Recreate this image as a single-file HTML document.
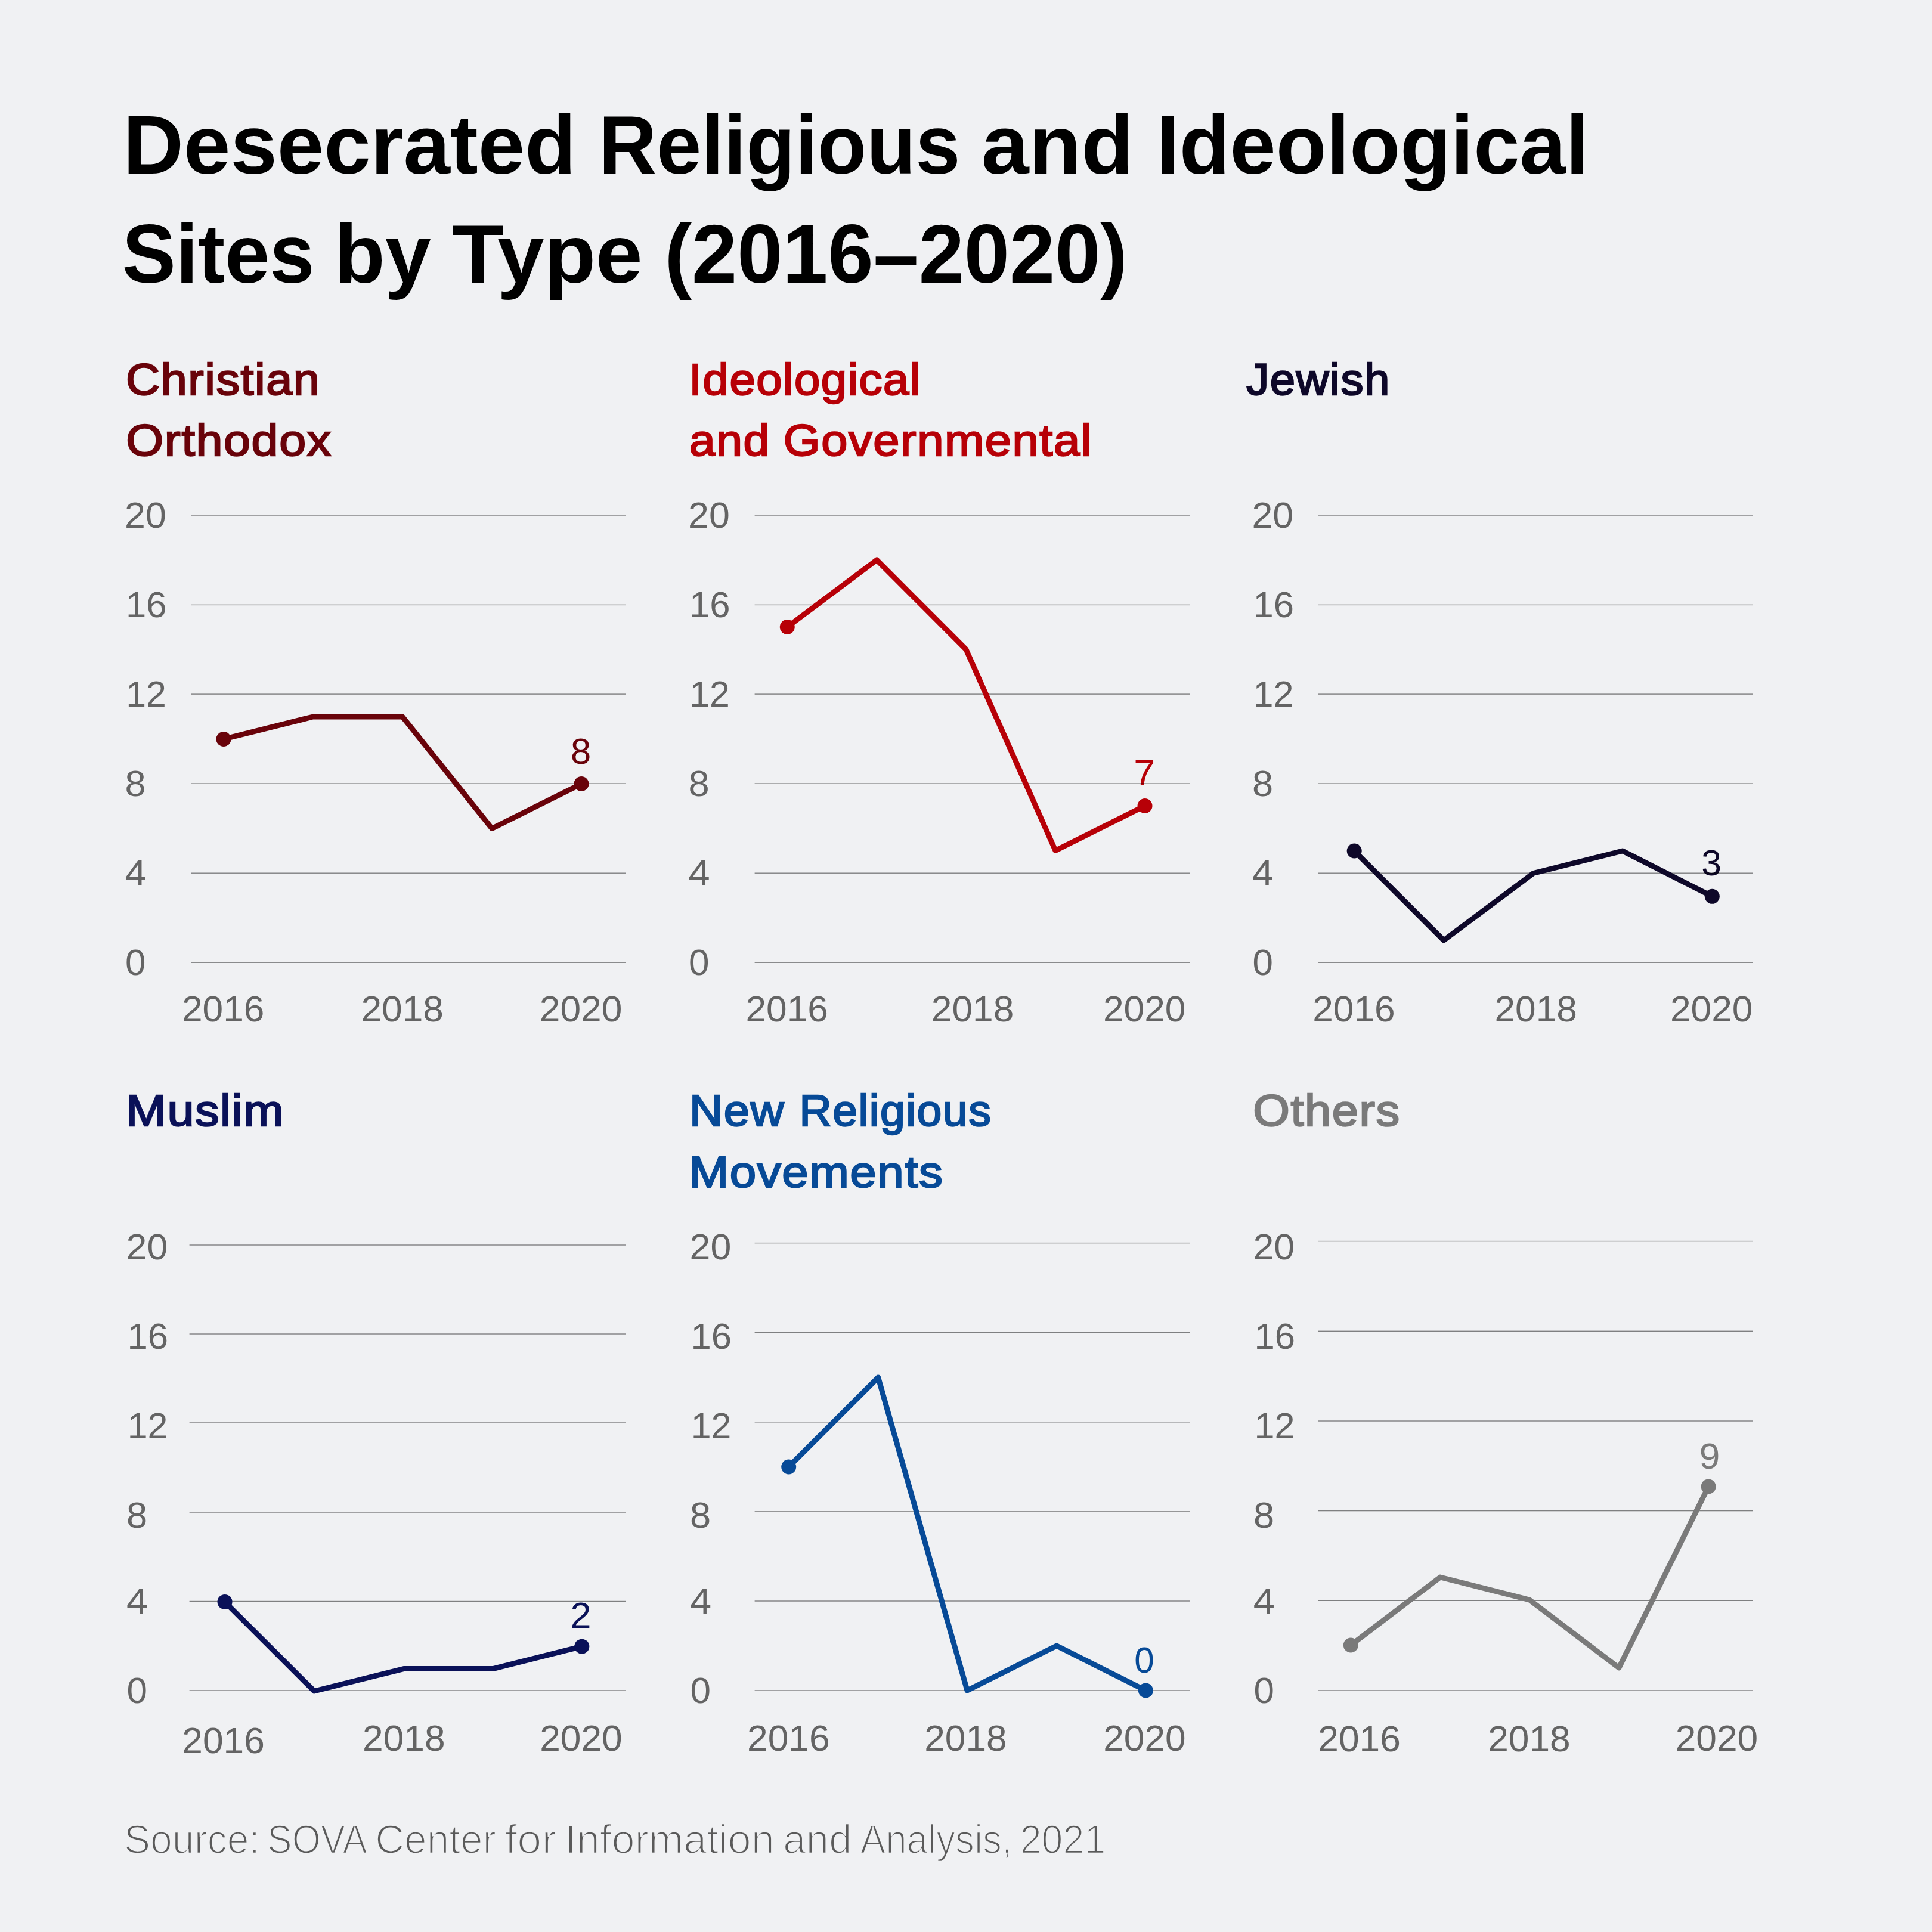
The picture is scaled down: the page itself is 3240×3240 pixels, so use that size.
<!DOCTYPE html>
<html lang="en"><head><meta charset="utf-8"><title>Desecrated Religious and Ideological Sites by Type (2016–2020)</title>
<style>
html,body{margin:0;padding:0;background:#f0f1f3;}
body{width:3240px;height:3240px;overflow:hidden;}
svg{display:block;font-family:"Liberation Sans",sans-serif;}
</style></head><body>
<svg width="3240" height="3240" viewBox="0 0 3240 3240">
<rect width="3240" height="3240" fill="#f0f1f3"/>
<text x="206.22" y="291" font-size="140" fill="#000" font-weight="bold" textLength="760.01" lengthAdjust="spacingAndGlyphs">Desecrated</text>
<text x="1004.03" y="291" font-size="140" fill="#000" font-weight="bold" textLength="606.4" lengthAdjust="spacingAndGlyphs">Religious</text>
<text x="1645.77" y="291" font-size="140" fill="#000" font-weight="bold" textLength="255.24" lengthAdjust="spacingAndGlyphs">and</text>
<text x="1939.26" y="291" font-size="140" fill="#000" font-weight="bold" textLength="725.0" lengthAdjust="spacingAndGlyphs">Ideological</text>
<text x="204.64" y="473.5" font-size="140" fill="#000" font-weight="bold" textLength="322.73" lengthAdjust="spacingAndGlyphs">Sites</text>
<text x="560.95" y="473.5" font-size="140" fill="#000" font-weight="bold" textLength="161.85" lengthAdjust="spacingAndGlyphs">by</text>
<text x="758.17" y="473.5" font-size="140" fill="#000" font-weight="bold" textLength="319.58" lengthAdjust="spacingAndGlyphs">Type</text>
<text x="1114.43" y="473.5" font-size="140" fill="#000" font-weight="bold" textLength="776.44" lengthAdjust="spacingAndGlyphs">(2016–2020)</text>
<text x="211.08" y="662.0" font-size="75" fill="#69030a" letter-spacing="1.5" stroke="#69030a" stroke-width="2.4" textLength="326.3" lengthAdjust="spacingAndGlyphs">Christian</text>
<text x="211.38" y="763.9" font-size="75" fill="#69030a" letter-spacing="1.5" stroke="#69030a" stroke-width="2.4" textLength="345.37" lengthAdjust="spacingAndGlyphs">Orthodox</text>
<text x="209.95" y="1635.2" font-size="62" fill="#646464" textLength="34.48" lengthAdjust="spacingAndGlyphs">0</text>
<text x="209.4" y="1485.2" font-size="62" fill="#646464" textLength="36.11" lengthAdjust="spacingAndGlyphs">4</text>
<text x="209.61" y="1335.2" font-size="62" fill="#646464" textLength="35.17" lengthAdjust="spacingAndGlyphs">8</text>
<text x="211.27" y="1185.2" font-size="62" fill="#646464" textLength="67.72" lengthAdjust="spacingAndGlyphs">12</text>
<text x="211.03" y="1035.2" font-size="62" fill="#646464" textLength="68.56" lengthAdjust="spacingAndGlyphs">16</text>
<text x="209.04" y="885.2" font-size="62" fill="#646464" textLength="69.72" lengthAdjust="spacingAndGlyphs">20</text>
<text x="304.97" y="1712.5" font-size="62" fill="#646464" textLength="138.54" lengthAdjust="spacingAndGlyphs">2016</text>
<text x="605.47" y="1712.5" font-size="62" fill="#646464" textLength="138.54" lengthAdjust="spacingAndGlyphs">2018</text>
<text x="904.78" y="1712.5" font-size="62" fill="#646464" textLength="138.53" lengthAdjust="spacingAndGlyphs">2020</text>
<text x="957.09" y="1281" font-size="62" fill="#69030a" textLength="34.21" lengthAdjust="spacingAndGlyphs">8</text>
<text x="1155.38" y="662.0" font-size="75" fill="#b70007" letter-spacing="1.5" stroke="#b70007" stroke-width="2.4" textLength="389.33" lengthAdjust="spacingAndGlyphs">Ideological</text>
<text x="1156.08" y="763.9" font-size="75" fill="#b70007" letter-spacing="1.5" stroke="#b70007" stroke-width="2.4" textLength="135.81" lengthAdjust="spacingAndGlyphs">and</text>
<text x="1313.81" y="763.9" font-size="75" fill="#b70007" letter-spacing="1.5" stroke="#b70007" stroke-width="2.4" textLength="518.19" lengthAdjust="spacingAndGlyphs">Governmental</text>
<text x="1154.95" y="1635.2" font-size="62" fill="#646464" textLength="34.48" lengthAdjust="spacingAndGlyphs">0</text>
<text x="1154.4" y="1485.2" font-size="62" fill="#646464" textLength="36.11" lengthAdjust="spacingAndGlyphs">4</text>
<text x="1154.61" y="1335.2" font-size="62" fill="#646464" textLength="35.17" lengthAdjust="spacingAndGlyphs">8</text>
<text x="1156.27" y="1185.2" font-size="62" fill="#646464" textLength="67.72" lengthAdjust="spacingAndGlyphs">12</text>
<text x="1156.03" y="1035.2" font-size="62" fill="#646464" textLength="68.56" lengthAdjust="spacingAndGlyphs">16</text>
<text x="1154.04" y="885.2" font-size="62" fill="#646464" textLength="69.72" lengthAdjust="spacingAndGlyphs">20</text>
<text x="1250.47" y="1712.5" font-size="62" fill="#646464" textLength="138.54" lengthAdjust="spacingAndGlyphs">2016</text>
<text x="1561.78" y="1712.5" font-size="62" fill="#646464" textLength="138.54" lengthAdjust="spacingAndGlyphs">2018</text>
<text x="1849.97" y="1712.5" font-size="62" fill="#646464" textLength="138.53" lengthAdjust="spacingAndGlyphs">2020</text>
<text x="1901.18" y="1317.4" font-size="62" fill="#b70007" textLength="36.02" lengthAdjust="spacingAndGlyphs">7</text>
<text x="2090.21" y="662.0" font-size="75" fill="#0e0829" letter-spacing="1.5" stroke="#0e0829" stroke-width="2.4" textLength="241.74" lengthAdjust="spacingAndGlyphs">Jewish</text>
<text x="2100.38" y="1635.2" font-size="62" fill="#646464" textLength="34.44" lengthAdjust="spacingAndGlyphs">0</text>
<text x="2099.82" y="1485.2" font-size="62" fill="#646464" textLength="36.11" lengthAdjust="spacingAndGlyphs">4</text>
<text x="2100.04" y="1335.2" font-size="62" fill="#646464" textLength="35.12" lengthAdjust="spacingAndGlyphs">8</text>
<text x="2101.42" y="1185.2" font-size="62" fill="#646464" textLength="68.0" lengthAdjust="spacingAndGlyphs">12</text>
<text x="2101.45" y="1035.2" font-size="62" fill="#646464" textLength="68.56" lengthAdjust="spacingAndGlyphs">16</text>
<text x="2099.45" y="885.2" font-size="62" fill="#646464" textLength="69.7" lengthAdjust="spacingAndGlyphs">20</text>
<text x="2201.17" y="1712.5" font-size="62" fill="#646464" textLength="138.54" lengthAdjust="spacingAndGlyphs">2016</text>
<text x="2506.47" y="1712.5" font-size="62" fill="#646464" textLength="138.54" lengthAdjust="spacingAndGlyphs">2018</text>
<text x="2800.97" y="1712.5" font-size="62" fill="#646464" textLength="138.53" lengthAdjust="spacingAndGlyphs">2020</text>
<text x="2853.22" y="1467.7" font-size="62" fill="#0e0829" textLength="33.62" lengthAdjust="spacingAndGlyphs">3</text>
<text x="211.38" y="1888.3" font-size="75" fill="#0a1158" letter-spacing="1.5" stroke="#0a1158" stroke-width="2.4" textLength="265.95" lengthAdjust="spacingAndGlyphs">Muslim</text>
<text x="212.45" y="2856" font-size="62" fill="#646464" textLength="34.48" lengthAdjust="spacingAndGlyphs">0</text>
<text x="211.9" y="2706" font-size="62" fill="#646464" textLength="36.11" lengthAdjust="spacingAndGlyphs">4</text>
<text x="212.11" y="2561.7" font-size="62" fill="#646464" textLength="35.17" lengthAdjust="spacingAndGlyphs">8</text>
<text x="213.77" y="2411.8" font-size="62" fill="#646464" textLength="67.72" lengthAdjust="spacingAndGlyphs">12</text>
<text x="213.53" y="2262" font-size="62" fill="#646464" textLength="68.56" lengthAdjust="spacingAndGlyphs">16</text>
<text x="211.54" y="2111.7" font-size="62" fill="#646464" textLength="69.72" lengthAdjust="spacingAndGlyphs">20</text>
<text x="305.28" y="2939.6" font-size="62" fill="#646464" textLength="138.54" lengthAdjust="spacingAndGlyphs">2016</text>
<text x="608.07" y="2936.2" font-size="62" fill="#646464" textLength="138.55" lengthAdjust="spacingAndGlyphs">2018</text>
<text x="905.17" y="2936.2" font-size="62" fill="#646464" textLength="138.53" lengthAdjust="spacingAndGlyphs">2020</text>
<text x="956.63" y="2730.4" font-size="62" fill="#0a1158" textLength="34.99" lengthAdjust="spacingAndGlyphs">2</text>
<text x="1156.04" y="1888.3" font-size="75" fill="#074a97" letter-spacing="1.5" stroke="#074a97" stroke-width="2.4" textLength="160.0" lengthAdjust="spacingAndGlyphs">New</text>
<text x="1340.42" y="1888.3" font-size="75" fill="#074a97" letter-spacing="1.5" stroke="#074a97" stroke-width="2.4" textLength="322.95" lengthAdjust="spacingAndGlyphs">Religious</text>
<text x="1155.84" y="1990.8" font-size="75" fill="#074a97" letter-spacing="1.5" stroke="#074a97" stroke-width="2.4" textLength="426.67" lengthAdjust="spacingAndGlyphs">Movements</text>
<text x="1157.45" y="2856" font-size="62" fill="#646464" textLength="34.48" lengthAdjust="spacingAndGlyphs">0</text>
<text x="1156.9" y="2706" font-size="62" fill="#646464" textLength="36.11" lengthAdjust="spacingAndGlyphs">4</text>
<text x="1157.11" y="2561.7" font-size="62" fill="#646464" textLength="35.17" lengthAdjust="spacingAndGlyphs">8</text>
<text x="1158.77" y="2411.8" font-size="62" fill="#646464" textLength="67.72" lengthAdjust="spacingAndGlyphs">12</text>
<text x="1158.53" y="2262" font-size="62" fill="#646464" textLength="68.56" lengthAdjust="spacingAndGlyphs">16</text>
<text x="1156.54" y="2111.7" font-size="62" fill="#646464" textLength="69.72" lengthAdjust="spacingAndGlyphs">20</text>
<text x="1253.07" y="2936.2" font-size="62" fill="#646464" textLength="138.55" lengthAdjust="spacingAndGlyphs">2016</text>
<text x="1550.17" y="2936.2" font-size="62" fill="#646464" textLength="138.54" lengthAdjust="spacingAndGlyphs">2018</text>
<text x="1850.17" y="2936.2" font-size="62" fill="#646464" textLength="138.53" lengthAdjust="spacingAndGlyphs">2020</text>
<text x="1902.37" y="2804.8" font-size="62" fill="#074a97" textLength="33.46" lengthAdjust="spacingAndGlyphs">0</text>
<text x="2101.24" y="1888.3" font-size="75" fill="#7a7a7a" letter-spacing="1.5" stroke="#7a7a7a" stroke-width="2.4" textLength="247.43" lengthAdjust="spacingAndGlyphs">Others</text>
<text x="2102.38" y="2856" font-size="62" fill="#646464" textLength="34.44" lengthAdjust="spacingAndGlyphs">0</text>
<text x="2101.82" y="2706" font-size="62" fill="#646464" textLength="36.11" lengthAdjust="spacingAndGlyphs">4</text>
<text x="2102.04" y="2561.7" font-size="62" fill="#646464" textLength="35.12" lengthAdjust="spacingAndGlyphs">8</text>
<text x="2103.42" y="2411.8" font-size="62" fill="#646464" textLength="68.0" lengthAdjust="spacingAndGlyphs">12</text>
<text x="2103.45" y="2262" font-size="62" fill="#646464" textLength="68.56" lengthAdjust="spacingAndGlyphs">16</text>
<text x="2101.45" y="2111.7" font-size="62" fill="#646464" textLength="69.7" lengthAdjust="spacingAndGlyphs">20</text>
<text x="2210.28" y="2937.2" font-size="62" fill="#646464" textLength="138.54" lengthAdjust="spacingAndGlyphs">2016</text>
<text x="2495.17" y="2936.6" font-size="62" fill="#646464" textLength="138.54" lengthAdjust="spacingAndGlyphs">2018</text>
<text x="2809.67" y="2936.2" font-size="62" fill="#646464" textLength="138.53" lengthAdjust="spacingAndGlyphs">2020</text>
<text x="2849.72" y="2463.2" font-size="62" fill="#7a7a7a" textLength="34.56" lengthAdjust="spacingAndGlyphs">9</text>
<text x="207.93" y="3107.6" font-size="69" fill="#5a5a5a" stroke="#f0f1f3" stroke-width="2.3" textLength="228.08" lengthAdjust="spacingAndGlyphs">Source:</text>
<text x="448.36" y="3107.6" font-size="69" fill="#5a5a5a" stroke="#f0f1f3" stroke-width="2.3" textLength="167.44" lengthAdjust="spacingAndGlyphs">SOVA</text>
<text x="629.35" y="3107.6" font-size="69" fill="#5a5a5a" stroke="#f0f1f3" stroke-width="2.3" textLength="202.67" lengthAdjust="spacingAndGlyphs">Center</text>
<text x="846.83" y="3107.6" font-size="69" fill="#5a5a5a" stroke="#f0f1f3" stroke-width="2.3" textLength="86.14" lengthAdjust="spacingAndGlyphs">for</text>
<text x="947.27" y="3107.6" font-size="69" fill="#5a5a5a" stroke="#f0f1f3" stroke-width="2.3" textLength="351.45" lengthAdjust="spacingAndGlyphs">Information</text>
<text x="1312.93" y="3107.6" font-size="69" fill="#5a5a5a" stroke="#f0f1f3" stroke-width="2.3" textLength="115.59" lengthAdjust="spacingAndGlyphs">and</text>
<text x="1442.7" y="3107.6" font-size="69" fill="#5a5a5a" stroke="#f0f1f3" stroke-width="2.3" textLength="254.92" lengthAdjust="spacingAndGlyphs">Analysis,</text>
<text x="1710.71" y="3107.6" font-size="69" fill="#5a5a5a" stroke="#f0f1f3" stroke-width="2.3" textLength="143.62" lengthAdjust="spacingAndGlyphs">2021</text>
<rect x="320.6" y="1613.5" width="729.4" height="1.4" fill="#000" fill-opacity="0.47"/>
<rect x="320.6" y="1463.5" width="729.4" height="1.4" fill="#000" fill-opacity="0.47"/>
<rect x="320.6" y="1313.4" width="729.4" height="1.4" fill="#000" fill-opacity="0.47"/>
<rect x="320.6" y="1163.4" width="729.4" height="1.4" fill="#000" fill-opacity="0.47"/>
<rect x="320.6" y="1013.7" width="729.4" height="1.4" fill="#000" fill-opacity="0.47"/>
<rect x="320.6" y="863.3" width="729.4" height="1.4" fill="#000" fill-opacity="0.47"/>
<rect x="1265.6" y="1613.5" width="729.4" height="1.4" fill="#000" fill-opacity="0.47"/>
<rect x="1265.6" y="1463.5" width="729.4" height="1.4" fill="#000" fill-opacity="0.47"/>
<rect x="1265.6" y="1313.4" width="729.4" height="1.4" fill="#000" fill-opacity="0.47"/>
<rect x="1265.6" y="1163.4" width="729.4" height="1.4" fill="#000" fill-opacity="0.47"/>
<rect x="1265.6" y="1013.7" width="729.4" height="1.4" fill="#000" fill-opacity="0.47"/>
<rect x="1265.6" y="863.3" width="729.4" height="1.4" fill="#000" fill-opacity="0.47"/>
<rect x="2210.6" y="1613.5" width="729.4" height="1.4" fill="#000" fill-opacity="0.47"/>
<rect x="2210.6" y="1463.5" width="729.4" height="1.4" fill="#000" fill-opacity="0.47"/>
<rect x="2210.6" y="1313.4" width="729.4" height="1.4" fill="#000" fill-opacity="0.47"/>
<rect x="2210.6" y="1163.4" width="729.4" height="1.4" fill="#000" fill-opacity="0.47"/>
<rect x="2210.6" y="1013.7" width="729.4" height="1.4" fill="#000" fill-opacity="0.47"/>
<rect x="2210.6" y="863.3" width="729.4" height="1.4" fill="#000" fill-opacity="0.47"/>
<rect x="317.6" y="2834.3" width="732.4" height="1.4" fill="#000" fill-opacity="0.47"/>
<rect x="317.6" y="2684.8" width="732.4" height="1.4" fill="#000" fill-opacity="0.47"/>
<rect x="317.6" y="2535.3" width="732.4" height="1.4" fill="#000" fill-opacity="0.47"/>
<rect x="317.6" y="2385.3" width="732.4" height="1.4" fill="#000" fill-opacity="0.47"/>
<rect x="317.6" y="2236.3" width="732.4" height="1.4" fill="#000" fill-opacity="0.47"/>
<rect x="317.6" y="2087.3" width="732.4" height="1.4" fill="#000" fill-opacity="0.47"/>
<rect x="1265.6" y="2834.3" width="729.4" height="1.4" fill="#000" fill-opacity="0.47"/>
<rect x="1265.6" y="2684.3" width="729.4" height="1.4" fill="#000" fill-opacity="0.47"/>
<rect x="1265.6" y="2534.2" width="729.4" height="1.4" fill="#000" fill-opacity="0.47"/>
<rect x="1265.6" y="2384.1" width="729.4" height="1.4" fill="#000" fill-opacity="0.47"/>
<rect x="1265.6" y="2234.0" width="729.4" height="1.4" fill="#000" fill-opacity="0.47"/>
<rect x="1265.6" y="2083.9" width="729.4" height="1.4" fill="#000" fill-opacity="0.47"/>
<rect x="2210.6" y="2834.3" width="729.4" height="1.4" fill="#000" fill-opacity="0.47"/>
<rect x="2210.6" y="2683.6" width="729.4" height="1.4" fill="#000" fill-opacity="0.47"/>
<rect x="2210.6" y="2532.9" width="729.4" height="1.4" fill="#000" fill-opacity="0.47"/>
<rect x="2210.6" y="2382.3" width="729.4" height="1.4" fill="#000" fill-opacity="0.47"/>
<rect x="2210.6" y="2231.6" width="729.4" height="1.4" fill="#000" fill-opacity="0.47"/>
<rect x="2210.6" y="2080.9" width="729.4" height="1.4" fill="#000" fill-opacity="0.47"/>
<polyline points="375,1239.5 525,1202.0 675,1202.0 825,1389.5 975,1314.5" fill="none" stroke="#69030a" stroke-width="9" stroke-linejoin="round"/>
<circle cx="375" cy="1239.5" r="12.5" fill="#69030a"/>
<circle cx="975" cy="1314.5" r="12.5" fill="#69030a"/>
<polyline points="1320.3,1051.5 1470.3,939.0 1620,1089.0 1770,1426.5 1920,1351.5" fill="none" stroke="#b70007" stroke-width="9" stroke-linejoin="round"/>
<circle cx="1320.3" cy="1051.5" r="12.5" fill="#b70007"/>
<circle cx="1920" cy="1351.5" r="12.5" fill="#b70007"/>
<polyline points="2271.2,1427.0 2421.2,1577.0 2571.4,1464.5 2721,1427.0 2871.3,1503.3" fill="none" stroke="#0e0829" stroke-width="9" stroke-linejoin="round"/>
<circle cx="2271.2" cy="1427.0" r="12.5" fill="#0e0829"/>
<circle cx="2871.3" cy="1503.3" r="12.5" fill="#0e0829"/>
<polyline points="377,2686.4 527,2836.0 677,2798.6 826.5,2798.6 975.8,2761.2" fill="none" stroke="#0a1158" stroke-width="9" stroke-linejoin="round"/>
<circle cx="377" cy="2686.4" r="12.5" fill="#0a1158"/>
<circle cx="975.8" cy="2761.2" r="12.5" fill="#0a1158"/>
<polyline points="1322.7,2460.0 1472.7,2310.0 1622,2835.0 1772,2760.0 1921.4,2835.0" fill="none" stroke="#074a97" stroke-width="9" stroke-linejoin="round"/>
<circle cx="1322.7" cy="2460.0" r="12.5" fill="#074a97"/>
<circle cx="1921.4" cy="2835.0" r="12.5" fill="#074a97"/>
<polyline points="2265.3,2759 2415.3,2645 2565,2683 2715,2797 2865.1,2493" fill="none" stroke="#7a7a7a" stroke-width="9" stroke-linejoin="round"/>
<circle cx="2265.3" cy="2759" r="12.5" fill="#7a7a7a"/>
<circle cx="2865.1" cy="2493" r="12.5" fill="#7a7a7a"/>
</svg>
</body></html>
